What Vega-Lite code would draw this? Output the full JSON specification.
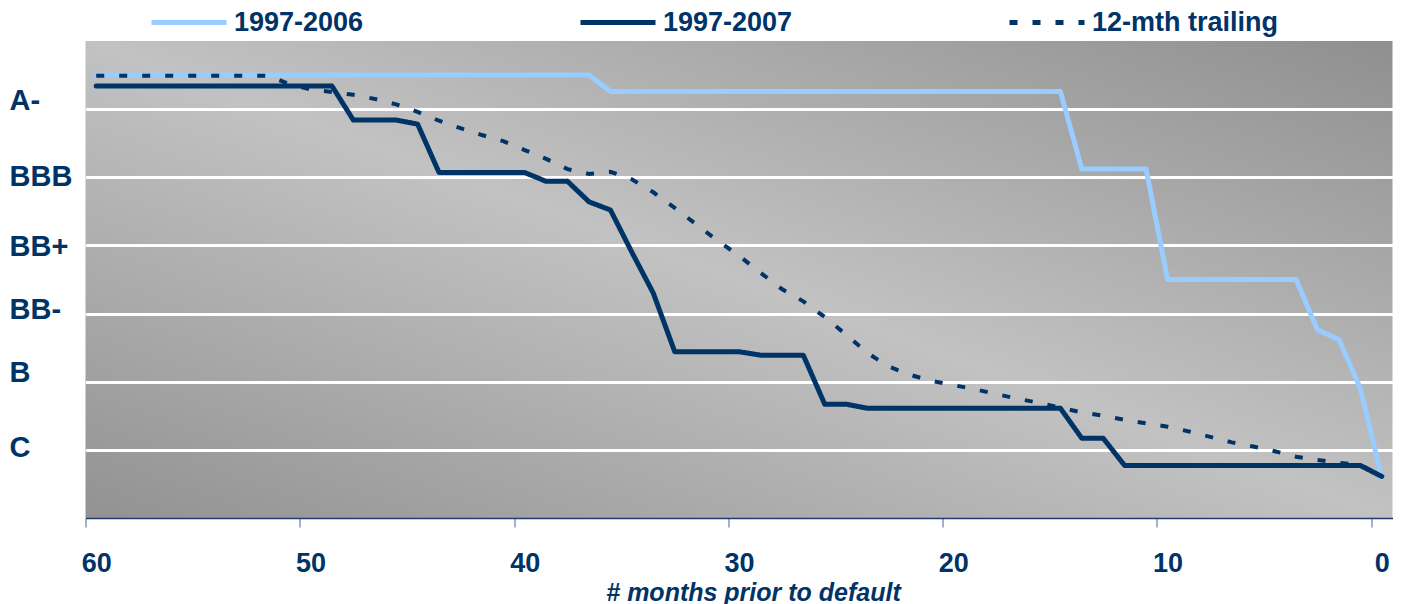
{
  "$schema": "https://vega.github.io/schema/vega-lite/v6.json",
  "autosize": {"type": "none"},
  "width": 1307,
  "height": 477,
  "padding": {"left": 85.5, "top": 41, "right": 10, "bottom": 86},
  "background": "white",
  "config": {
    "font": "Liberation Sans",
    "view": {
      "stroke": null,
      "fill": {
        "gradient": "linear",
        "x1": 0, "y1": 1, "x2": 1, "y2": 0,
        "stops": [
          {"offset": 0, "color": "#929292"},
          {"offset": 0.5, "color": "#c2c2c2"},
          {"offset": 1, "color": "#8f8f8f"}
        ]
      }
    },
    "legend": {
      "orient": "none",
      "legendX": 63.5,
      "legendY": -58.5,
      "direction": "horizontal",
      "title": null,
      "symbolType": "stroke",
      "symbolSize": 5625,
      "symbolStrokeWidth": 5,
      "labelFontSize": 27,
      "labelFontWeight": "bold",
      "labelColor": "#003366",
      "labelOffset": 5,
      "labelLimit": 0,
      "columnPadding": 206,
      "padding": 0
    }
  },
  "datasets": {
    "ratings": [
      {"m": 60, "r": 6.5, "s": "1997-2006"}, {"m": 59, "r": 6.5, "s": "1997-2006"}, {"m": 58, "r": 6.5, "s": "1997-2006"}, {"m": 57, "r": 6.5, "s": "1997-2006"}, {"m": 56, "r": 6.5, "s": "1997-2006"}, {"m": 55, "r": 6.5, "s": "1997-2006"}, {"m": 54, "r": 6.5, "s": "1997-2006"}, {"m": 53, "r": 6.5, "s": "1997-2006"}, {"m": 52, "r": 6.5, "s": "1997-2006"}, {"m": 51, "r": 6.5, "s": "1997-2006"}, {"m": 50, "r": 6.5, "s": "1997-2006"},
      {"m": 49, "r": 6.5, "s": "1997-2006"}, {"m": 48, "r": 6.5, "s": "1997-2006"}, {"m": 47, "r": 6.5, "s": "1997-2006"}, {"m": 46, "r": 6.5, "s": "1997-2006"}, {"m": 45, "r": 6.5, "s": "1997-2006"}, {"m": 44, "r": 6.5, "s": "1997-2006"}, {"m": 43, "r": 6.5, "s": "1997-2006"}, {"m": 42, "r": 6.5, "s": "1997-2006"}, {"m": 41, "r": 6.5, "s": "1997-2006"}, {"m": 40, "r": 6.5, "s": "1997-2006"},
      {"m": 39, "r": 6.5, "s": "1997-2006"}, {"m": 38, "r": 6.5, "s": "1997-2006"}, {"m": 37, "r": 6.5, "s": "1997-2006"}, {"m": 36, "r": 6.26, "s": "1997-2006"}, {"m": 35, "r": 6.26, "s": "1997-2006"}, {"m": 34, "r": 6.26, "s": "1997-2006"}, {"m": 33, "r": 6.26, "s": "1997-2006"}, {"m": 32, "r": 6.26, "s": "1997-2006"}, {"m": 31, "r": 6.26, "s": "1997-2006"}, {"m": 30, "r": 6.26, "s": "1997-2006"},
      {"m": 29, "r": 6.26, "s": "1997-2006"}, {"m": 28, "r": 6.26, "s": "1997-2006"}, {"m": 27, "r": 6.26, "s": "1997-2006"}, {"m": 26, "r": 6.26, "s": "1997-2006"}, {"m": 25, "r": 6.26, "s": "1997-2006"}, {"m": 24, "r": 6.26, "s": "1997-2006"}, {"m": 23, "r": 6.26, "s": "1997-2006"}, {"m": 22, "r": 6.26, "s": "1997-2006"}, {"m": 21, "r": 6.26, "s": "1997-2006"}, {"m": 20, "r": 6.26, "s": "1997-2006"},
      {"m": 19, "r": 6.26, "s": "1997-2006"}, {"m": 18, "r": 6.26, "s": "1997-2006"}, {"m": 17, "r": 6.26, "s": "1997-2006"}, {"m": 16, "r": 6.26, "s": "1997-2006"}, {"m": 15, "r": 6.26, "s": "1997-2006"}, {"m": 14, "r": 5.12, "s": "1997-2006"}, {"m": 13, "r": 5.12, "s": "1997-2006"}, {"m": 12, "r": 5.12, "s": "1997-2006"}, {"m": 11, "r": 5.12, "s": "1997-2006"}, {"m": 10, "r": 3.5, "s": "1997-2006"},
      {"m": 9, "r": 3.5, "s": "1997-2006"}, {"m": 8, "r": 3.5, "s": "1997-2006"}, {"m": 7, "r": 3.5, "s": "1997-2006"}, {"m": 6, "r": 3.5, "s": "1997-2006"}, {"m": 5, "r": 3.5, "s": "1997-2006"}, {"m": 4, "r": 3.5, "s": "1997-2006"}, {"m": 3, "r": 2.76, "s": "1997-2006"}, {"m": 2, "r": 2.62, "s": "1997-2006"}, {"m": 1, "r": 1.9, "s": "1997-2006"}, {"m": 0, "r": 0.59, "s": "1997-2006"},

      {"m": 60, "r": 6.34, "s": "1997-2007"}, {"m": 59, "r": 6.34, "s": "1997-2007"}, {"m": 58, "r": 6.34, "s": "1997-2007"}, {"m": 57, "r": 6.34, "s": "1997-2007"}, {"m": 56, "r": 6.34, "s": "1997-2007"}, {"m": 55, "r": 6.34, "s": "1997-2007"}, {"m": 54, "r": 6.34, "s": "1997-2007"}, {"m": 53, "r": 6.34, "s": "1997-2007"}, {"m": 52, "r": 6.34, "s": "1997-2007"}, {"m": 51, "r": 6.34, "s": "1997-2007"}, {"m": 50, "r": 6.34, "s": "1997-2007"},
      {"m": 49, "r": 6.34, "s": "1997-2007"}, {"m": 48, "r": 5.84, "s": "1997-2007"}, {"m": 47, "r": 5.84, "s": "1997-2007"}, {"m": 46, "r": 5.84, "s": "1997-2007"}, {"m": 45, "r": 5.78, "s": "1997-2007"}, {"m": 44, "r": 5.07, "s": "1997-2007"}, {"m": 43, "r": 5.07, "s": "1997-2007"}, {"m": 42, "r": 5.07, "s": "1997-2007"}, {"m": 41, "r": 5.07, "s": "1997-2007"}, {"m": 40, "r": 5.07, "s": "1997-2007"},
      {"m": 39, "r": 4.94, "s": "1997-2007"}, {"m": 38, "r": 4.94, "s": "1997-2007"}, {"m": 37, "r": 4.64, "s": "1997-2007"}, {"m": 36, "r": 4.52, "s": "1997-2007"}, {"m": 35, "r": 3.9, "s": "1997-2007"}, {"m": 34, "r": 3.3, "s": "1997-2007"}, {"m": 33, "r": 2.44, "s": "1997-2007"}, {"m": 32, "r": 2.44, "s": "1997-2007"}, {"m": 31, "r": 2.44, "s": "1997-2007"}, {"m": 30, "r": 2.44, "s": "1997-2007"},
      {"m": 29, "r": 2.39, "s": "1997-2007"}, {"m": 28, "r": 2.39, "s": "1997-2007"}, {"m": 27, "r": 2.39, "s": "1997-2007"}, {"m": 26, "r": 1.67, "s": "1997-2007"}, {"m": 25, "r": 1.67, "s": "1997-2007"}, {"m": 24, "r": 1.61, "s": "1997-2007"}, {"m": 23, "r": 1.61, "s": "1997-2007"}, {"m": 22, "r": 1.61, "s": "1997-2007"}, {"m": 21, "r": 1.61, "s": "1997-2007"}, {"m": 20, "r": 1.61, "s": "1997-2007"},
      {"m": 19, "r": 1.61, "s": "1997-2007"}, {"m": 18, "r": 1.61, "s": "1997-2007"}, {"m": 17, "r": 1.61, "s": "1997-2007"}, {"m": 16, "r": 1.61, "s": "1997-2007"}, {"m": 15, "r": 1.61, "s": "1997-2007"}, {"m": 14, "r": 1.17, "s": "1997-2007"}, {"m": 13, "r": 1.17, "s": "1997-2007"}, {"m": 12, "r": 0.77, "s": "1997-2007"}, {"m": 11, "r": 0.77, "s": "1997-2007"}, {"m": 10, "r": 0.77, "s": "1997-2007"},
      {"m": 9, "r": 0.77, "s": "1997-2007"}, {"m": 8, "r": 0.77, "s": "1997-2007"}, {"m": 7, "r": 0.77, "s": "1997-2007"}, {"m": 6, "r": 0.77, "s": "1997-2007"}, {"m": 5, "r": 0.77, "s": "1997-2007"}, {"m": 4, "r": 0.77, "s": "1997-2007"}, {"m": 3, "r": 0.77, "s": "1997-2007"}, {"m": 2, "r": 0.77, "s": "1997-2007"}, {"m": 1, "r": 0.77, "s": "1997-2007"}, {"m": 0, "r": 0.61, "s": "1997-2007"},

      {"m": 60, "r": 6.49, "s": "12-mth trailing"}, {"m": 59, "r": 6.49, "s": "12-mth trailing"}, {"m": 58, "r": 6.49, "s": "12-mth trailing"}, {"m": 57, "r": 6.49, "s": "12-mth trailing"}, {"m": 56, "r": 6.49, "s": "12-mth trailing"}, {"m": 55, "r": 6.49, "s": "12-mth trailing"}, {"m": 54, "r": 6.49, "s": "12-mth trailing"}, {"m": 53, "r": 6.49, "s": "12-mth trailing"}, {"m": 52, "r": 6.49, "s": "12-mth trailing"}, {"m": 51, "r": 6.37, "s": "12-mth trailing"}, {"m": 50, "r": 6.29, "s": "12-mth trailing"},
      {"m": 49, "r": 6.25, "s": "12-mth trailing"}, {"m": 48, "r": 6.21, "s": "12-mth trailing"}, {"m": 47, "r": 6.15, "s": "12-mth trailing"}, {"m": 46, "r": 6.07, "s": "12-mth trailing"}, {"m": 45, "r": 5.96, "s": "12-mth trailing"}, {"m": 44, "r": 5.83, "s": "12-mth trailing"}, {"m": 43, "r": 5.72, "s": "12-mth trailing"}, {"m": 42, "r": 5.62, "s": "12-mth trailing"}, {"m": 41, "r": 5.53, "s": "12-mth trailing"}, {"m": 40, "r": 5.4, "s": "12-mth trailing"},
      {"m": 39, "r": 5.27, "s": "12-mth trailing"}, {"m": 38, "r": 5.12, "s": "12-mth trailing"}, {"m": 37, "r": 5.05, "s": "12-mth trailing"}, {"m": 36, "r": 5.08, "s": "12-mth trailing"}, {"m": 35, "r": 4.97, "s": "12-mth trailing"}, {"m": 34, "r": 4.78, "s": "12-mth trailing"}, {"m": 33, "r": 4.55, "s": "12-mth trailing"}, {"m": 32, "r": 4.31, "s": "12-mth trailing"}, {"m": 31, "r": 4.07, "s": "12-mth trailing"}, {"m": 30, "r": 3.85, "s": "12-mth trailing"},
      {"m": 29, "r": 3.6, "s": "12-mth trailing"}, {"m": 28, "r": 3.36, "s": "12-mth trailing"}, {"m": 27, "r": 3.18, "s": "12-mth trailing"}, {"m": 26, "r": 2.95, "s": "12-mth trailing"}, {"m": 25, "r": 2.69, "s": "12-mth trailing"}, {"m": 24, "r": 2.42, "s": "12-mth trailing"}, {"m": 23, "r": 2.22, "s": "12-mth trailing"}, {"m": 22, "r": 2.1, "s": "12-mth trailing"}, {"m": 21, "r": 2.01, "s": "12-mth trailing"}, {"m": 20, "r": 1.95, "s": "12-mth trailing"},
      {"m": 19, "r": 1.89, "s": "12-mth trailing"}, {"m": 18, "r": 1.82, "s": "12-mth trailing"}, {"m": 17, "r": 1.75, "s": "12-mth trailing"}, {"m": 16, "r": 1.69, "s": "12-mth trailing"}, {"m": 15, "r": 1.62, "s": "12-mth trailing"}, {"m": 14, "r": 1.55, "s": "12-mth trailing"}, {"m": 13, "r": 1.5, "s": "12-mth trailing"}, {"m": 12, "r": 1.44, "s": "12-mth trailing"}, {"m": 11, "r": 1.39, "s": "12-mth trailing"}, {"m": 10, "r": 1.34, "s": "12-mth trailing"},
      {"m": 9, "r": 1.27, "s": "12-mth trailing"}, {"m": 8, "r": 1.19, "s": "12-mth trailing"}, {"m": 7, "r": 1.11, "s": "12-mth trailing"}, {"m": 6, "r": 1.05, "s": "12-mth trailing"}, {"m": 5, "r": 0.98, "s": "12-mth trailing"}, {"m": 4, "r": 0.9, "s": "12-mth trailing"}, {"m": 3, "r": 0.85, "s": "12-mth trailing"}, {"m": 2, "r": 0.81, "s": "12-mth trailing"}, {"m": 1, "r": 0.78, "s": "12-mth trailing"}, {"m": 0, "r": 0.61, "s": "12-mth trailing"}
    ]
  },
  "data": {"name": "ratings"},
  "encoding": {
    "x": {
      "field": "m",
      "type": "quantitative",
      "scale": {"domain": [60.5, -0.5], "nice": false, "zero": false},
      "axis": {
        "title": "# months prior to default",
        "values": [60, 50, 40, 30, 20, 10, 0],
        "grid": false,
        "domainColor": "#1f3d6b",
        "domainWidth": 1.5,
        "tickColor": "#8399b8",
        "tickWidth": 1.5,
        "tickSize": 9,
        "tickOffset": -10.7,
        "labelOffset": 10.7,
        "labelFontSize": 27,
        "labelFontWeight": "bold",
        "labelColor": "#003366",
        "labelBaseline": "alphabetic",
        "labelPadding": 44.7,
        "labelFlush": false,
        "labelOverlap": false,
        "titleFontSize": 25,
        "titleFontWeight": "bold",
        "titleFontStyle": "italic",
        "titleColor": "#003366",
        "titleX": 667.5,
        "titleY": 82,
        "titleBaseline": "alphabetic",
        "titleAnchor": "middle"
      }
    },
    "y": {
      "field": "r",
      "type": "quantitative",
      "scale": {"domain": [0, 7], "nice": false, "zero": false},
      "axis": {
        "title": null,
        "values": [1, 2, 3, 4, 5, 6],
        "grid": true,
        "gridColor": "white",
        "gridWidth": 3,
        "gridOpacity": 1,
        "domain": false,
        "ticks": false,
        "tickSize": 0,
        "labelAlign": "left",
        "labelBaseline": "middle",
        "labelPadding": 76.5,
        "labelFontSize": 29,
        "labelFontWeight": "bold",
        "labelColor": "#003366",
        "labelExpr": "datum.value == 6 ? 'A-' : datum.value == 5 ? 'BBB' : datum.value == 4 ? 'BB+' : datum.value == 3 ? 'BB-' : datum.value == 2 ? 'B' : 'C'",
        "labelOffset": {
          "condition": [
            {"test": "datum.value == 6", "value": -9},
            {"test": "datum.value == 5", "value": -1},
            {"test": "datum.value == 4", "value": 1},
            {"test": "datum.value == 3", "value": -4},
            {"test": "datum.value == 2", "value": -9},
            {"test": "datum.value == 1", "value": -2}
          ],
          "value": 0
        }
      }
    },
    "color": {
      "field": "s",
      "type": "nominal",
      "scale": {
        "domain": ["1997-2006", "1997-2007", "12-mth trailing"],
        "range": ["#99ccff", "#003366", "#003366"]
      }
    },
    "strokeDash": {
      "field": "s",
      "type": "nominal",
      "scale": {
        "domain": ["1997-2006", "1997-2007", "12-mth trailing"],
        "range": [[1, 0], [1, 0], [8, 15]]
      }
    }
  },
  "layer": [
    {
      "transform": [{"filter": "datum.s == '1997-2006'"}],
      "mark": {"type": "line", "strokeWidth": 5, "strokeCap": "round", "strokeJoin": "round"}
    },
    {
      "transform": [{"filter": "datum.s == '1997-2007'"}],
      "mark": {"type": "line", "strokeWidth": 5, "strokeCap": "round", "strokeJoin": "round"}
    },
    {
      "transform": [{"filter": "datum.s == '12-mth trailing'"}],
      "mark": {"type": "line", "strokeWidth": 4, "strokeCap": "butt"}
    }
  ]
}
